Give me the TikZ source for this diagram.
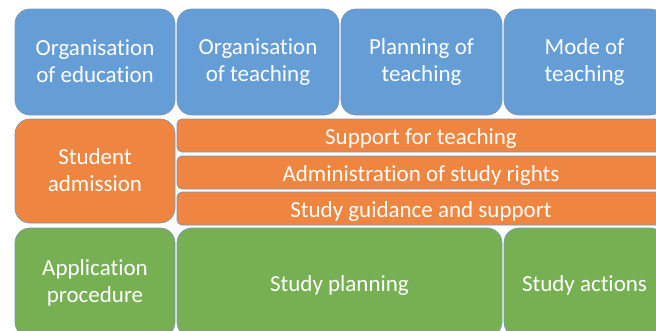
\documentclass[tikz,border=0pt]{standalone}
\usepackage{fontspec}
\setmainfont[Ligatures=NoCommon]{Carlito}
\usepackage{tikz}
\usetikzlibrary{
    calc,
    positioning
}
\definecolor{eduBlue}{HTML}{659ED6}
\definecolor{eduOrange}{HTML}{EE8641}
\definecolor{eduGreen}{HTML}{77B052}
\definecolor{eduEdge}{HTML}{7C95B4}
\newcommand{\boxstrut}{\rule[-2pt]{0pt}{24pt}}

\begin{document}
\begin{tikzpicture}[x=1pt,y=-1pt,
    block/.style={draw=eduEdge,line width=0.7pt,rounded corners=15pt,
        text=white,align=center,font=\fontsize{23}{27}\selectfont,
        execute at begin node=\boxstrut,execute at end node=\boxstrut,
        inner sep=0pt,outer sep=0pt},
    blue block/.style={block,fill=eduBlue},
    orange block/.style={block,fill=eduOrange},
    green block/.style={block,fill=eduGreen},
    bar/.style={orange block,rounded corners=5pt,
        minimum width=488pt,minimum height=33pt}]
%\draw [help lines](0,0) grid (656,330);
\useasboundingbox (0,0) rectangle (656,330);
\clip (0,0) rectangle (656,330);
% top row
\node [blue block,minimum width=160pt,minimum height=106pt] (orgEdu) at (95,62) {Organisation\\of education};
\node [blue block,minimum width=162pt,minimum height=106pt] (orgTeach) at (258,62) {Organisation\\of teaching};
\node [blue block,minimum width=161pt,minimum height=106pt] (planTeach) at (421.5,62) {Planning of\\teaching};
\node [blue block,minimum width=161pt,minimum height=106pt] (modeTeach) at (584.5,62) {Mode of\\teaching};
% middle row
\node [orange block,minimum width=160pt,minimum height=104pt] (admission) at (95,171) {Student\\admission};
\node [bar] (support) at (421,135.5) {Support for teaching};
\node [bar] (rights) at (421,172.5) {Administration of study rights};
\node [bar] (guidance) at (421,208.5) {Study guidance and support};
% bottom row
\node [green block,minimum width=160pt,minimum height=109pt] (application) at (95,282.5) {Application\\procedure};
\node [green block,minimum width=325pt,minimum height=109pt] (planning) at (339.5,282.5) {Study planning};
\node [green block,minimum width=161pt,minimum height=109pt] (actions) at (584.5,282.5) {Study actions};
\end{tikzpicture}
\end{document}
